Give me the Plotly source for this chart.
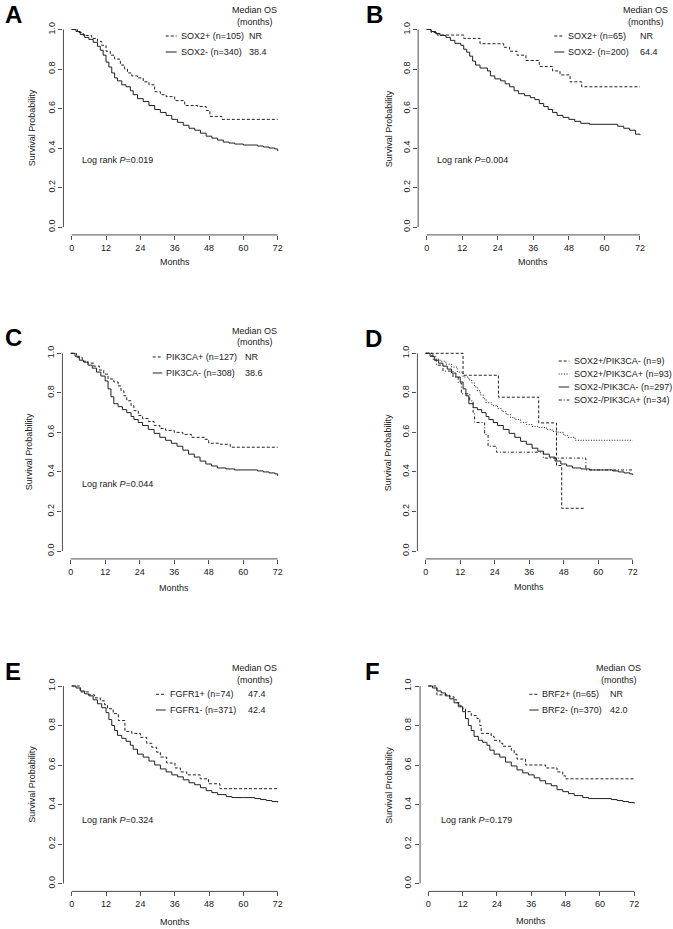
import plotly.graph_objects as go

W, H = 673, 929
FONT = "Liberation Sans, Arial, sans-serif"
INK = "#202020"
AX = "#505050"

# ---------------- data (months, survival probability) ----------------
# Panel A: SOX2
A_pos_t = [0, 2, 4, 7, 9, 10.5, 12, 13.5, 15, 17, 18.5, 19.5, 21, 23, 25, 27, 29, 31, 33, 36, 39.5, 44, 47, 48.3, 52.5, 72]
A_pos_s = [1.0, 0.985, 0.97, 0.955, 0.94, 0.92, 0.89, 0.87, 0.85, 0.82, 0.80, 0.78, 0.765, 0.755, 0.735, 0.72, 0.685, 0.67, 0.66, 0.64, 0.615, 0.61, 0.59, 0.56, 0.545, 0.545]
A_neg_t = [0, 1.5, 3, 4.5, 6, 7.5, 9, 10, 11, 12, 13, 14, 15, 16, 17.5, 19, 20.5, 21.5, 23, 25, 27, 29, 31, 33, 35, 37, 39, 41, 43, 45, 47, 49, 51, 53, 55, 57, 60, 63, 65, 67, 69, 71, 72]
A_neg_s = [1.0, 0.99, 0.975, 0.96, 0.95, 0.935, 0.915, 0.895, 0.87, 0.835, 0.81, 0.78, 0.755, 0.74, 0.72, 0.71, 0.69, 0.67, 0.65, 0.635, 0.615, 0.595, 0.58, 0.565, 0.545, 0.53, 0.515, 0.50, 0.49, 0.475, 0.46, 0.45, 0.44, 0.43, 0.425, 0.42, 0.415, 0.415, 0.41, 0.405, 0.40, 0.395, 0.385]

# Panel B: SOX2 (second cohort)
B_pos_t = [0, 1.5, 3.5, 12.5, 18, 26, 28, 30.5, 33.5, 38, 42.5, 45, 48.4, 52.3, 72]
B_pos_s = [1.0, 0.985, 0.972, 0.955, 0.928, 0.91, 0.89, 0.87, 0.843, 0.813, 0.79, 0.77, 0.735, 0.71, 0.71]
B_neg_t = [0, 1.5, 3, 4.5, 6.5, 8, 9.5, 11.5, 12.5, 13.5, 14.5, 15.5, 16.5, 18, 20.5, 21.5, 23, 25, 26.5, 28, 29.5, 31, 33, 35, 36.5, 38, 39.5, 41, 42.5, 44, 46, 48, 50, 52, 55, 64.5, 66.5, 68.5, 70.5, 72]
B_neg_s = [1.0, 0.99, 0.98, 0.97, 0.96, 0.945, 0.93, 0.92, 0.90, 0.885, 0.865, 0.84, 0.82, 0.805, 0.79, 0.765, 0.75, 0.74, 0.725, 0.71, 0.69, 0.675, 0.665, 0.655, 0.645, 0.625, 0.61, 0.595, 0.58, 0.565, 0.555, 0.545, 0.535, 0.525, 0.52, 0.51, 0.50, 0.49, 0.47, 0.465]

# Panel C: PIK3CA
C_pos_t = [0, 2, 4, 6, 8, 10, 11.5, 13, 15, 16.5, 17.5, 18.5, 19.5, 21, 22, 23.5, 25, 27, 29, 31, 33, 36, 39, 42, 46.5, 48, 52, 55.5, 72]
C_pos_s = [1.0, 0.98, 0.96, 0.95, 0.935, 0.915, 0.895, 0.87, 0.855, 0.835, 0.81, 0.785, 0.76, 0.735, 0.71, 0.685, 0.67, 0.655, 0.635, 0.62, 0.61, 0.60, 0.59, 0.575, 0.565, 0.545, 0.54, 0.525, 0.525]
C_neg_t = [0, 1.5, 3, 4.5, 6, 7.5, 9, 10.5, 12, 13, 14, 15, 16.5, 18, 19.5, 21, 22, 23.5, 25, 27, 29, 31, 33, 35, 37, 39, 41, 43, 45, 47, 49, 51, 54, 57, 60, 63, 65, 67, 69, 71, 72]
C_neg_s = [1.0, 0.985, 0.965, 0.955, 0.94, 0.925, 0.905, 0.885, 0.86, 0.82, 0.78, 0.745, 0.73, 0.715, 0.70, 0.68, 0.665, 0.65, 0.635, 0.615, 0.595, 0.575, 0.56, 0.545, 0.53, 0.51, 0.49, 0.475, 0.455, 0.44, 0.43, 0.42, 0.415, 0.41, 0.41, 0.41, 0.405, 0.40, 0.395, 0.39, 0.38]

# Panel D: SOX2 / PIK3CA combinations
D_pm_t = [0, 13, 25.3, 39.3, 45.5, 47.3, 55.6]
D_pm_s = [1.0, 0.889, 0.778, 0.648, 0.432, 0.216, 0.216]
D_pp_t = [0, 2, 3.5, 5, 7, 9, 11, 13, 15, 16, 17, 18, 19, 20, 21, 23, 25, 26.5, 28, 29.5, 31, 33, 35, 37, 39, 42, 44, 46, 48, 49.5, 52, 72]
D_pp_s = [1.0, 0.985, 0.97, 0.96, 0.945, 0.93, 0.905, 0.88, 0.865, 0.85, 0.83, 0.81, 0.79, 0.77, 0.75, 0.735, 0.72, 0.705, 0.69, 0.675, 0.665, 0.65, 0.64, 0.63, 0.625, 0.615, 0.605, 0.60, 0.585, 0.575, 0.56, 0.56]
D_mm_t = [0, 1.5, 3, 4.5, 6, 7.5, 9, 10.5, 12, 13, 14, 15, 16.5, 18, 19.5, 21, 22, 23.5, 25, 27, 29, 31, 33, 35, 37, 39, 41, 43, 45, 47, 49, 51, 54, 57, 60, 63, 65, 67, 69, 71, 72]
D_mm_s = [1.0, 0.985, 0.965, 0.95, 0.935, 0.92, 0.90, 0.88, 0.855, 0.82, 0.785, 0.745, 0.725, 0.715, 0.70, 0.68, 0.665, 0.65, 0.635, 0.615, 0.595, 0.575, 0.555, 0.54, 0.52, 0.505, 0.49, 0.475, 0.455, 0.44, 0.43, 0.42, 0.415, 0.41, 0.41, 0.41, 0.405, 0.40, 0.395, 0.39, 0.385]
D_mp_t = [0, 2.5, 3.7, 6, 9.5, 11.3, 12.4, 15.3, 16.5, 17, 20.5, 21.7, 24.6, 40.9, 55.7, 72]
D_mp_s = [1.0, 0.97, 0.94, 0.91, 0.88, 0.85, 0.795, 0.76, 0.70, 0.65, 0.59, 0.53, 0.50, 0.47, 0.41, 0.41]

# Panel E: FGFR1
E_pos_t = [0, 3, 6, 8, 10, 11.5, 12.5, 14.5, 16.3, 18.6, 21, 24, 26.2, 28, 29.7, 31, 33.2, 36.1, 38, 40.2, 44.9, 47.8, 51.8, 72]
E_pos_s = [1.0, 0.97, 0.955, 0.94, 0.925, 0.905, 0.885, 0.86, 0.825, 0.77, 0.76, 0.74, 0.71, 0.69, 0.665, 0.64, 0.61, 0.585, 0.565, 0.55, 0.53, 0.505, 0.48, 0.48]
E_neg_t = [0, 1.5, 3, 4.5, 6, 7.5, 9, 10.5, 12, 13, 14, 15, 16, 17.5, 19, 20.5, 21.5, 23, 25, 27, 29, 31, 33, 35, 37, 39, 41, 43, 45, 47, 49, 51, 54, 56, 60, 64, 66, 68, 70, 72]
E_neg_s = [1.0, 0.99, 0.975, 0.96, 0.95, 0.93, 0.91, 0.89, 0.865, 0.83, 0.80, 0.775, 0.75, 0.735, 0.72, 0.70, 0.68, 0.655, 0.64, 0.62, 0.60, 0.58, 0.565, 0.55, 0.54, 0.525, 0.51, 0.50, 0.485, 0.47, 0.46, 0.45, 0.44, 0.435, 0.435, 0.43, 0.425, 0.42, 0.415, 0.41]

# Panel F: BRF2
F_pos_t = [0, 3, 7.5, 9, 10, 11, 12, 13, 15, 17, 18, 18.5, 22, 23, 25, 26, 29, 30, 31, 34, 41, 45, 47, 48, 72]
F_pos_s = [1.0, 0.955, 0.945, 0.93, 0.915, 0.90, 0.885, 0.87, 0.85, 0.835, 0.80, 0.76, 0.745, 0.725, 0.71, 0.695, 0.675, 0.655, 0.63, 0.60, 0.585, 0.565, 0.545, 0.53, 0.53]
F_neg_t = [0, 1.5, 3, 4.5, 6, 7.5, 9, 10.5, 12, 13, 14, 15, 16, 17.5, 19, 20.5, 21.5, 23, 25, 27, 29, 31, 33, 35, 37, 39, 41, 43, 45, 47, 49, 51, 54, 56, 60, 64, 66, 68, 70, 72]
F_neg_s = [1.0, 0.99, 0.975, 0.965, 0.95, 0.935, 0.915, 0.895, 0.87, 0.835, 0.80, 0.775, 0.745, 0.725, 0.715, 0.70, 0.675, 0.655, 0.64, 0.615, 0.595, 0.575, 0.56, 0.55, 0.535, 0.52, 0.505, 0.495, 0.475, 0.465, 0.455, 0.445, 0.435, 0.43, 0.43, 0.425, 0.42, 0.415, 0.41, 0.405]

x_ticks = [0, 12, 24, 36, 48, 60, 72]
y_ticks = [0.0, 0.2, 0.4, 0.6, 0.8, 1.0]
y_tick_labels = ["0.0", "0.2", "0.4", "0.6", "0.8", "1.0"]

panel_letters = ["A", "B", "C", "D", "E", "F"]
series_labels = [
    ["SOX2+ (n=105)", "SOX2- (n=340)"],
    ["SOX2+ (n=65)", "SOX2- (n=200)"],
    ["PIK3CA+ (n=127)", "PIK3CA- (n=308)"],
    ["SOX2+/PIK3CA- (n=9)", "SOX2+/PIK3CA+ (n=93)", "SOX2-/PIK3CA- (n=297)", "SOX2-/PIK3CA+ (n=34)"],
    ["FGFR1+ (n=74)", "FGFR1- (n=371)"],
    ["BRF2+ (n=65)", "BRF2- (n=370)"],
]
median_os = [["NR", "38.4"], ["NR", "64.4"], ["NR", "38.6"], None, ["47.4", "42.4"], ["NR", "42.0"]]
p_values = ["0.019", "0.004", "0.044", None, "0.324", "0.179"]

series_data = [
    [(A_pos_t, A_pos_s), (A_neg_t, A_neg_s)],
    [(B_pos_t, B_pos_s), (B_neg_t, B_neg_s)],
    [(C_pos_t, C_pos_s), (C_neg_t, C_neg_s)],
    [(D_pm_t, D_pm_s), (D_pp_t, D_pp_s), (D_mm_t, D_mm_s), (D_mp_t, D_mp_s)],
    [(E_pos_t, E_pos_s), (E_neg_t, E_neg_s)],
    [(F_pos_t, F_pos_s), (F_neg_t, F_neg_s)],
]

# ---------------- styles / geometry ----------------
DASH = "3px,2px"
DOT = "1px,1.6px"
DASHDOT = "3px,2px,1px,2px"
series_dash = [
    [DASH, "solid"], [DASH, "solid"], [DASH, "solid"],
    [DASH, DOT, "solid", DASHDOT],
    [DASH, "solid"], [DASH, "solid"],
]

# pixel geometry: x of month 0, x of month 72, y of prob 1.0, y of prob 0.0
geo = [
    dict(x0=71.7, x72=277.7, y1=29.5, y0=227.0, ytx=32, xty=262, let=(3, 15), leg_line=(165.7, 176.7), leg_txt=179, leg_val=246.7, med_x=254.5, med_y=(10, 22), rows=(36, 52), p=(80, 160)),
    dict(x0=426.7, x72=640.0, y1=29.5, y0=227.0, ytx=389, xty=262, let=(364, 15), leg_line=(554.3, 564.3), leg_txt=566, leg_val=637.7, med_x=645.5, med_y=(10, 22), rows=(36, 52), p=(435, 160)),
    dict(x0=70.7, x72=277.7, y1=353.3, y0=551.0, ytx=29, xty=588, let=(3, 337), leg_line=(152.7, 162.3), leg_txt=164.3, leg_val=242.7, med_x=254.8, med_y=(331, 342.5), rows=(357, 373), p=(80, 484)),
    dict(x0=425.7, x72=632.7, y1=353.3, y0=551.0, ytx=388, xty=587, let=(363, 338), leg_line=(558.7, 569.3), leg_txt=572, leg_val=None, med_x=None, med_y=None, rows=(361, 374, 387, 400), p=None),
    dict(x0=71.7, x72=277.7, y1=686.0, y0=883.5, ytx=32, xty=922, let=(3, 671), leg_line=(156, 165.7), leg_txt=167.7, leg_val=246, med_x=254.8, med_y=(668.3, 680), rows=(694.3, 710), p=(80, 820)),
    dict(x0=428.3, x72=634.3, y1=686.0, y0=883.5, ytx=389, xty=921, let=(363, 671), leg_line=(529.3, 538.7), leg_txt=540, leg_val=607.7, med_x=618.5, med_y=(668.3, 680), rows=(694.3, 710), p=(439.3, 820)),
]

def px(x):
    return x / W

def py(y):
    return 1 - y / H

fig = go.Figure()
layout = dict(
    width=W, height=H, margin=dict(l=0, r=0, t=0, b=0),
    paper_bgcolor="white", plot_bgcolor="white", showlegend=False,
    font=dict(family=FONT, size=9, color=INK),
)
annotations = []
shapes = []

def txt(x, y, text, size=9, xanchor="left", bold=False, angle=0):
    annotations.append(dict(
        x=px(x), y=py(y), xref="paper", yref="paper", text=("<b>%s</b>" % text) if bold else text,
        showarrow=False, xanchor=xanchor, yanchor="middle", textangle=angle,
        font=dict(family=FONT, size=size, color="#000" if bold else INK),
    ))

for i in range(6):
    g = geo[i]
    n = i + 1
    xa = "x" if n == 1 else "x%d" % n
    ya = "y" if n == 1 else "y%d" % n
    xk = "xaxis" if n == 1 else "xaxis%d" % n
    yk = "yaxis" if n == 1 else "yaxis%d" % n

    wpx = g["x72"] - g["x0"]
    hpx = g["y0"] - g["y1"]
    left = g["x0"] - 0.04 * wpx
    right = g["x72"] + 0.04 * wpx
    top = g["y1"] - 0.04 * hpx
    bottom = g["y0"] + 0.04 * hpx

    layout[xk] = dict(
        domain=[px(left), px(right)], anchor=ya, range=[-2.88, 74.88],
        tickvals=x_ticks, ticktext=[str(v) for v in x_ticks],
        ticks="outside", ticklen=4, tickwidth=1, tickcolor=AX,
        showline=False, showgrid=False, zeroline=False,
        tickfont=dict(family=FONT, size=9, color=INK), fixedrange=True,
    )
    layout[yk] = dict(
        domain=[py(bottom), py(top)], anchor=xa, range=[-0.04, 1.04],
        tickvals=y_ticks, ticktext=y_tick_labels, tickangle=-90,
        ticks="outside", ticklen=4, tickwidth=1, tickcolor=AX,
        showline=False, showgrid=False, zeroline=False,
        tickfont=dict(family=FONT, size=9, color=INK), fixedrange=True,
    )
    # R-style axis lines spanning first to last tick
    shapes.append(dict(type="line", xref=xa, yref=ya + " domain", x0=0, x1=72, y0=0, y1=0,
                       line=dict(color=AX, width=1)))
    shapes.append(dict(type="line", xref=xa + " domain", yref=ya, x0=0, x1=0, y0=0, y1=1,
                       line=dict(color=AX, width=1)))

    for k, (t, s) in enumerate(series_data[i]):
        fig.add_trace(go.Scatter(
            x=t, y=s, mode="lines", line=dict(shape="hv", color=INK, width=1, dash=series_dash[i][k]),
            xaxis=xa, yaxis=ya, hoverinfo="skip", cliponaxis=False,
        ))

    # axis titles
    txt((g["x0"] + g["x72"]) / 2, g["xty"], "Months", xanchor="center")
    txt(g["ytx"], (g["y0"] + g["y1"]) / 2, "Survival Probability", xanchor="center", angle=-90)
    # panel letter
    txt(g["let"][0], g["let"][1], panel_letters[i], size=24, bold=True)

    # legend
    for k, lab in enumerate(series_labels[i]):
        ry = g["rows"][k]
        shapes.append(dict(type="line", xref="paper", yref="paper",
                           x0=px(g["leg_line"][0]), x1=px(g["leg_line"][1]), y0=py(ry), y1=py(ry),
                           line=dict(color=INK, width=1, dash=series_dash[i][k])))
        txt(g["leg_txt"], ry, lab)
        if median_os[i] is not None:
            txt(g["leg_val"], ry, median_os[i][k])
    if g["med_x"] is not None:
        txt(g["med_x"], g["med_y"][0], "Median OS", xanchor="center")
        txt(g["med_x"], g["med_y"][1], "(months)", xanchor="center")
    if p_values[i] is not None:
        txt(g["p"][0], g["p"][1], "Log rank <i>P</i>=%s" % p_values[i])

layout["annotations"] = annotations
layout["shapes"] = shapes
fig.update_layout(**layout)
fig.write_html(
    "out.html",
    config={"displayModeBar": False},
    post_script="document.body.style.margin='0';document.body.style.padding='0';document.body.style.overflow='hidden';",
)
